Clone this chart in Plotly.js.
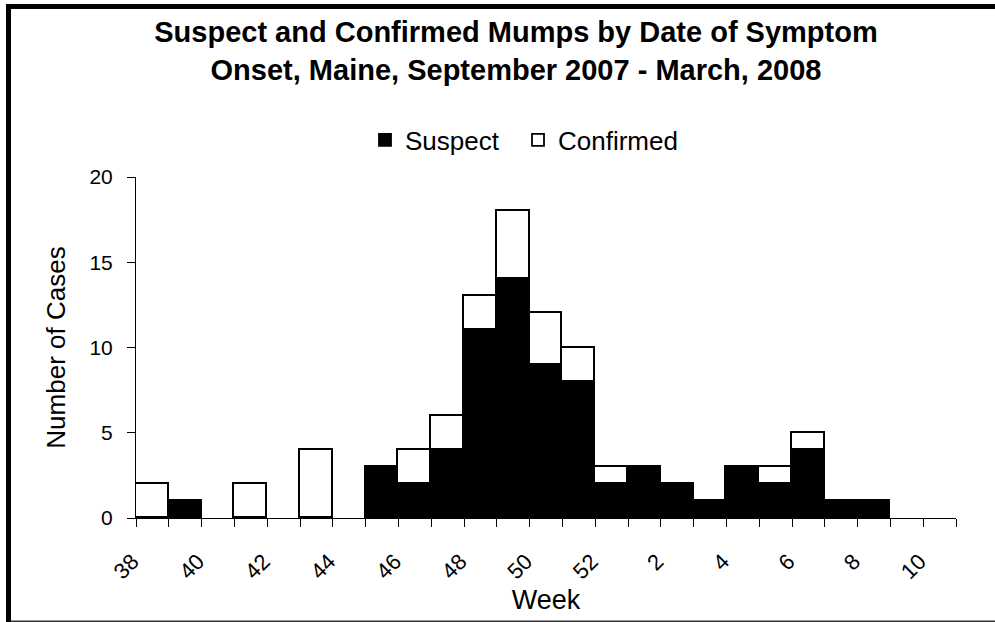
<!DOCTYPE html>
<html>
<head>
<meta charset="utf-8">
<script src="https://cdn.plot.ly/plotly-3.0.1.min.js"></script>
<style>
  html, body { margin: 0; padding: 0; background: #fff; }
  #chart { width: 995px; height: 622px; }
</style>
</head>
<body>
<div id="chart"></div>
<script>
// Data
var weeks = ['38','39','40','41','42','43','44','45','46','47','48','49','50','51','52',
             '1','2','3','4','5','6','7','8','9','10'];
var suspect   = [0,1,0,0,0,0,0,3,2,4,11,14,9,8,2,3,2,1,3,2,4,1,1,0,0];
var confirmed = [2,0,0,2,0,4,0,0,2,2,2,4,3,2,1,0,0,0,0,1,1,0,0,0,0];
var tickLabels = ['38','','40','','42','','44','','46','','48','','50','','52',
                  '','2','','4','','6','','8','','10'];

var W = 995, H = 622;
var M = {l: 136, r: 39, t: 177, b: 104};
var FONT = 'Liberation Sans, Arial, sans-serif';

function px(x) { return (x - M.l) / (W - M.l - M.r); }
function py(y) { return (H - M.b - y) / (H - M.t - M.b); }
// empty weeks draw no bar at all
function nz(arr) { return arr.map(function (v) { return v === 0 ? null : v; }); }

var traces = [
  {
    type: 'bar', name: 'Suspect', x: weeks, y: nz(suspect), legend: 'legend',
    marker: {color: '#000000', line: {color: '#000000', width: 1.8}},
    hoverinfo: 'x+y+name'
  },
  {
    type: 'bar', name: 'Confirmed', x: weeks, y: nz(confirmed), legend: 'legend2',
    marker: {color: '#ffffff', line: {color: '#000000', width: 1.8}},
    hoverinfo: 'x+y+name'
  }
];

function legendAt(xLeft) {
  return {
    orientation: 'h',
    xref: 'container', x: xLeft / W, xanchor: 'left',
    yref: 'container', y: 1 - 140 / H, yanchor: 'middle',
    font: {family: FONT, size: 26, color: '#000000'},
    itemwidth: 30,
    bgcolor: 'rgba(0,0,0,0)'
  };
}

var layout = {
  width: W, height: H,
  margin: M,
  paper_bgcolor: '#ffffff',
  plot_bgcolor: '#ffffff',
  barmode: 'stack',
  bargap: 0,
  font: {family: FONT, color: '#000000', size: 21},
  title: {
    text: '<b>Suspect and Confirmed Mumps by Date of Symptom<br>Onset, Maine, September 2007 - March, 2008</b>',
    font: {family: FONT, size: 29, color: '#000000'},
    xref: 'container', x: 516 / W, xanchor: 'center',
    yref: 'container', y: 1 - 42 / H, yanchor: 'top'
  },
  showlegend: true,
  legend: legendAt(365),
  legend2: legendAt(518),
  xaxis: {
    type: 'category',
    tickmode: 'array', tickvals: weeks, ticktext: tickLabels,
    tickson: 'boundaries',
    ticks: 'outside', ticklen: 8, tickwidth: 1, tickcolor: '#000000',
    tickangle: -45,
    ticklabelstandoff: 21,
    ticklabelshift: -20,
    tickfont: {family: FONT, size: 22, color: '#000000'},
    showline: true, linecolor: '#000000', linewidth: 1,
    showgrid: false, zeroline: false,
    automargin: false,
    title: {text: 'Week', font: {family: FONT, size: 27, color: '#000000'}, standoff: 7}
  },
  yaxis: {
    range: [0, 20], dtick: 5, tick0: 0,
    ticks: 'outside', ticklen: 8, tickwidth: 1, tickcolor: '#000000',
    ticklabelstandoff: 10,
    tickfont: {family: FONT, size: 21, color: '#000000'},
    showline: true, linecolor: '#000000', linewidth: 1,
    showgrid: false, zeroline: false,
    automargin: false,
    title: {text: 'Number of Cases', font: {family: FONT, size: 26, color: '#000000'}, standoff: 16}
  },
  shapes: [
    {type: 'rect', xref: 'paper', yref: 'paper', x0: px(6), x1: px(W), y0: py(4), y1: py(9),
     fillcolor: '#000000', line: {width: 0}, layer: 'above'},
    {type: 'rect', xref: 'paper', yref: 'paper', x0: px(6), x1: px(11), y0: py(4), y1: py(H),
     fillcolor: '#000000', line: {width: 0}, layer: 'above'},
    {type: 'rect', xref: 'paper', yref: 'paper', x0: px(11), x1: px(W), y0: py(620.5), y1: py(H),
     fillcolor: '#333333', line: {width: 0}, layer: 'above'}
  ]
};

Plotly.newPlot('chart', traces, layout, {displayModeBar: false, responsive: false});
</script>
</body>
</html>
